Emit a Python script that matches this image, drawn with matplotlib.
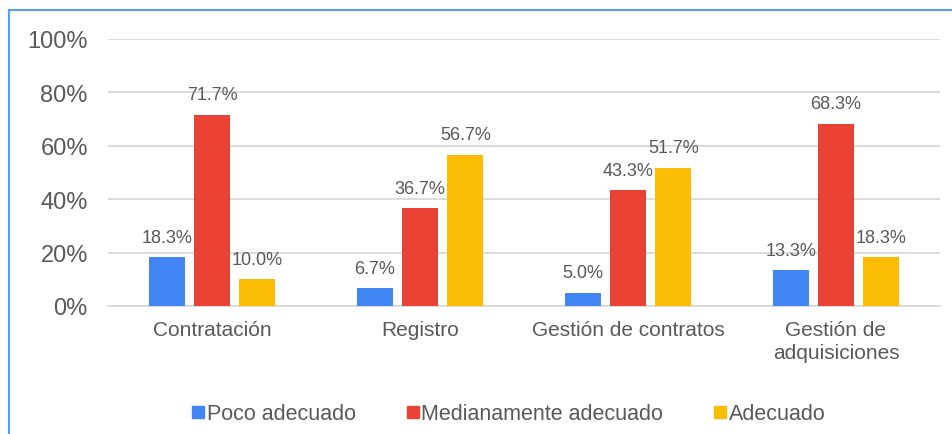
import numpy as np
import matplotlib.pyplot as plt
from matplotlib.lines import Line2D

plt.rcParams['font.family'] = ['Liberation Sans', 'DejaVu Sans']

categorias = ['Contratación', 'Registro', 'Gestión de contratos', 'Gestión de\nadquisiciones']
series = ['Poco adecuado', 'Medianamente adecuado', 'Adecuado']
poco = [18.3, 6.7, 5.0, 13.3]
mediano = [71.7, 36.7, 43.3, 68.3]
adecuado = [10.0, 56.7, 51.7, 18.3]
colores = ['#4285F4', '#EA4335', '#FBBC04']
gris = '#595959'

fig = plt.figure(figsize=(9.53, 4.35), dpi=100)
ax = fig.add_axes([108/953, 1-307/435, 832/953, 267/435])

x = np.arange(len(categorias))
w = 0.173
step = 0.218
for i, (vals, c) in enumerate(zip([poco, mediano, adecuado], colores)):
    pos = x + (i-1)*step
    ax.bar(pos, vals, w, color=c, zorder=3)
    for p, v in zip(pos, vals):
        ax.text(p, v+4.3, f'{v:.1f}%', ha='center', va='bottom', fontsize=13, color=gris)

ax.set_xlim(-0.5, 3.5)
ax.set_ylim(0, 100)
ax.set_yticks(range(0, 101, 20))
ax.set_yticklabels([f'{t}%' for t in range(0, 101, 20)], fontsize=17, color=gris)
ax.set_xticks(x)
ax.set_xticklabels(categorias, fontsize=15, color=gris, linespacing=1.25)
ax.tick_params(length=0, pad=14.5, axis='y')
ax.tick_params(length=0, pad=10, axis='x')
ax.grid(axis='y', color='#d9d9d9', lw=1.3, zorder=0)
for s in ['top', 'right', 'left']:
    ax.spines[s].set_visible(False)
ax.spines['bottom'].set_color('#d9d9d9')
ax.spines['bottom'].set_linewidth(1.3)

handles = [Line2D([], [], marker='s', ls='', color=c, markersize=8) for c in colores]
fig.legend(handles, series, loc='center', bbox_to_anchor=(508/953, 1-415/435), ncol=3,
           frameon=False, fontsize=15.5, labelcolor=gris, handletextpad=0.05,
           columnspacing=2.3, handlelength=0.7)

# borde azul
fig.add_artist(Line2D([9/953, 9/953], [0, 1-11/435], color='#5B9BF0', lw=1.5))
fig.add_artist(Line2D([9/953, 1], [1-11/435, 1-11/435], color='#5B9BF0', lw=1.5))

fig.savefig('out.png', dpi=100)
